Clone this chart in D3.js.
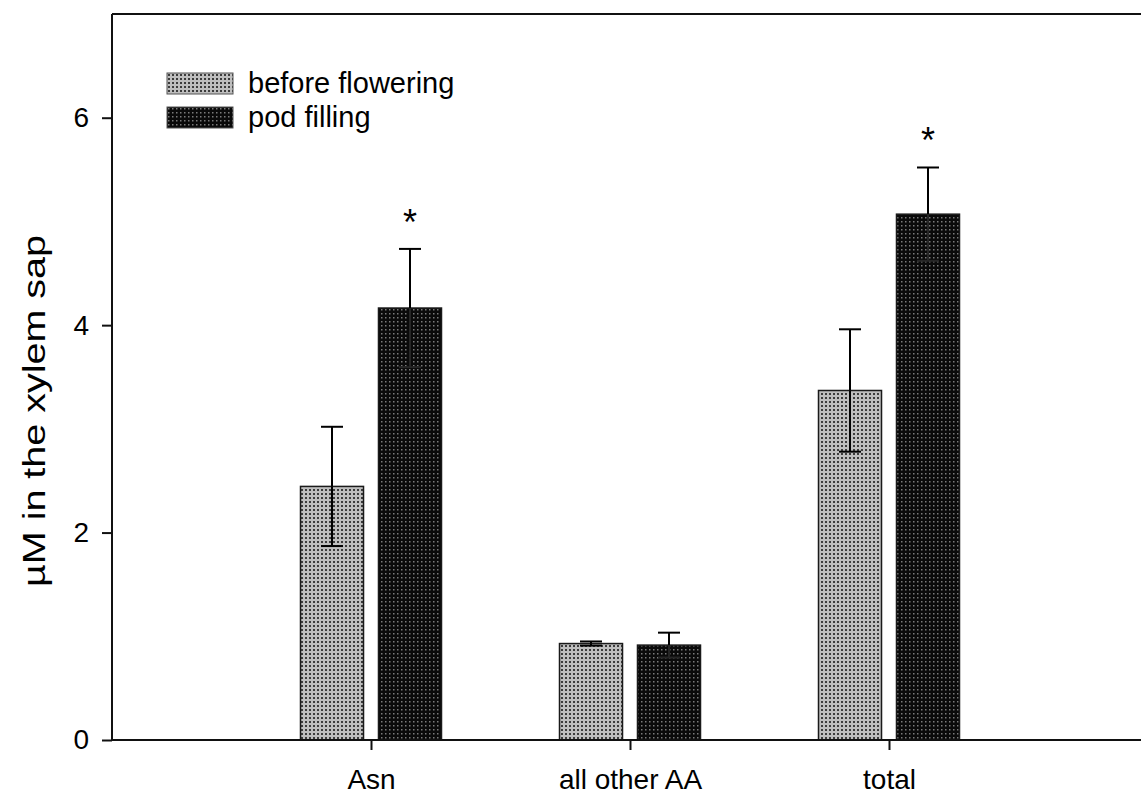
<!DOCTYPE html>
<html>
<head>
<meta charset="utf-8">
<script src="https://cdn.jsdelivr.net/npm/d3@7"></script>
<style>
  html, body { margin: 0; padding: 0; background: #ffffff; }
  svg { display: block; }
  text { font-family: "Liberation Sans", Arial, sans-serif; fill: #000; }
</style>
</head>
<body>
<svg id="chart" width="1141" height="794"></svg>
<script>
// ---- data ----
const categories = ["Asn", "all other AA", "total"];
const seriesNames = ["before flowering", "pod filling"];
const beforeFlowering = [2.445, 0.93, 3.37];
const podFilling = [4.165, 0.915, 5.07];
const beforeFloweringErr = [0.575, 0.02, 0.59];
const podFillingErr = [0.57, 0.12, 0.45];
const significant = [["Asn", "pod filling"], ["total", "pod filling"]];
const yTicks = [0, 2, 4, 6];
const yLabel = "µM in the xylem sap";

(function () {
const svg = d3.select("#chart");

// ---- patterns ----
const defs = svg.append("defs");
const pLight = defs.append("pattern").attr("id", "patLight")
  .attr("patternUnits", "userSpaceOnUse").attr("width", 4).attr("height", 4);
pLight.append("rect").attr("width", 4).attr("height", 4).attr("fill", "#bebebe");
pLight.append("rect").attr("x", 1).attr("y", 1).attr("width", 2).attr("height", 2).attr("fill", "#3c3c3c");

const pDark = defs.append("pattern").attr("id", "patDark")
  .attr("patternUnits", "userSpaceOnUse").attr("width", 4).attr("height", 4);
pDark.append("rect").attr("width", 4).attr("height", 4).attr("fill", "#0a0a0a");
pDark.append("rect").attr("x", 1).attr("y", 1).attr("width", 1.5).attr("height", 1.5).attr("fill", "#7a7a7a");

const fills = { "before flowering": "url(#patLight)", "pod filling": "url(#patDark)" };

// ---- scales ----
const mLeft = 112, mTop = 14, mBottom = 740, mRight = 1148;
const x = d3.scalePoint().domain(categories).range([mLeft, mRight]).padding(1);
const xInner = d3.scaleBand().domain(seriesNames).range([-70.5, 70.5]).paddingInner(0.192);
const y = d3.scaleLinear().domain([0, 7]).range([mBottom, mTop]);

// ---- rows ----
const rows = [];
categories.forEach((c, i) => {
  rows.push({ cat: c, series: "before flowering", v: beforeFlowering[i], e: beforeFloweringErr[i] });
  rows.push({ cat: c, series: "pod filling", v: podFilling[i], e: podFillingErr[i] });
});

// ---- frame (top line) ----
svg.append("line").attr("x1", mLeft).attr("x2", mRight).attr("y1", y(7)).attr("y2", y(7))
  .attr("stroke", "#111").attr("stroke-width", 2);

// ---- bars ----
svg.append("g").selectAll("rect").data(rows).join("rect")
  .attr("x", d => x(d.cat) + xInner(d.series))
  .attr("y", d => y(d.v))
  .attr("width", xInner.bandwidth())
  .attr("height", d => y(0) - y(d.v))
  .attr("fill", d => fills[d.series])
  .attr("stroke", "#1a1a1a").attr("stroke-width", 1.5);

// ---- error bars ----
const capW = 22;
const eg = svg.append("g").attr("stroke-width", 2);
rows.forEach(d => {
  const cx = x(d.cat) + xInner(d.series) + xInner.bandwidth() / 2;
  const inner = d.series === "pod filling" ? "#262626" : "#000";
  // part above the bar
  eg.append("line").attr("stroke", "#000").attr("x1", cx).attr("x2", cx).attr("y1", y(d.v)).attr("y2", y(d.v + d.e));
  // part inside the bar
  eg.append("line").attr("stroke", inner).attr("x1", cx).attr("x2", cx).attr("y1", y(d.v - d.e)).attr("y2", y(d.v));
  eg.append("line").attr("stroke", "#000").attr("x1", cx - capW / 2).attr("x2", cx + capW / 2).attr("y1", y(d.v + d.e)).attr("y2", y(d.v + d.e));
  eg.append("line").attr("stroke", inner).attr("x1", cx - capW / 2).attr("x2", cx + capW / 2).attr("y1", y(d.v - d.e)).attr("y2", y(d.v - d.e));
});

// ---- significance stars ----
significant.forEach(([c, s]) => {
  const d = rows.find(r => r.cat === c && r.series === s);
  const cx = x(c) + xInner(s) + xInner.bandwidth() / 2;
  svg.append("text").attr("x", cx).attr("y", y(d.v + d.e) - 14)
    .attr("text-anchor", "middle").attr("font-size", 36).text("*");
});

// ---- axes ----
const yAxis = d3.axisLeft(y).tickValues(yTicks).tickSize(10).tickPadding(13).tickFormat(d3.format("d"));
const gy = svg.append("g").attr("transform", `translate(${mLeft},0)`).call(yAxis);
gy.attr("font-size", 28).attr("font-family", "Liberation Sans, Arial, sans-serif");
gy.select(".domain").attr("stroke", "#111").attr("stroke-width", 2).attr("d", `M0,${mTop}V${mBottom}`);
gy.selectAll(".tick line").attr("stroke", "#111").attr("stroke-width", 2);
gy.selectAll(".tick text").attr("font-size", 28).attr("fill", "#000");

const xAxis = d3.axisBottom(x).tickSize(10).tickPadding(19);
const gx = svg.append("g").attr("transform", `translate(0,${mBottom})`).call(xAxis);
gx.attr("font-size", 28).attr("font-family", "Liberation Sans, Arial, sans-serif");
gx.select(".domain").attr("stroke", "#111").attr("stroke-width", 2).attr("d", `M${mLeft},0H${mRight}`);
gx.selectAll(".tick line").attr("stroke", "#111").attr("stroke-width", 2);
gx.selectAll(".tick text").attr("font-size", 28).attr("fill", "#000");

// ---- y label ----
svg.append("text")
  .attr("transform", "translate(45,411) rotate(-90)")
  .attr("text-anchor", "middle")
  .attr("font-size", 32)
  .attr("textLength", 352).attr("lengthAdjust", "spacingAndGlyphs")
  .text(yLabel);

// ---- legend ----
const lg = svg.append("g").attr("transform", "translate(167,73)");
seriesNames.forEach((s, i) => {
  const g = lg.append("g").attr("transform", `translate(0,${i * 34})`);
  g.append("rect").attr("width", 66).attr("height", 21)
    .attr("fill", fills[s]).attr("stroke", "#555").attr("stroke-width", 1);
  g.append("text").attr("x", 81).attr("y", 20).attr("font-size", 29).text(s);
});
})();
</script>
</body>
</html>
